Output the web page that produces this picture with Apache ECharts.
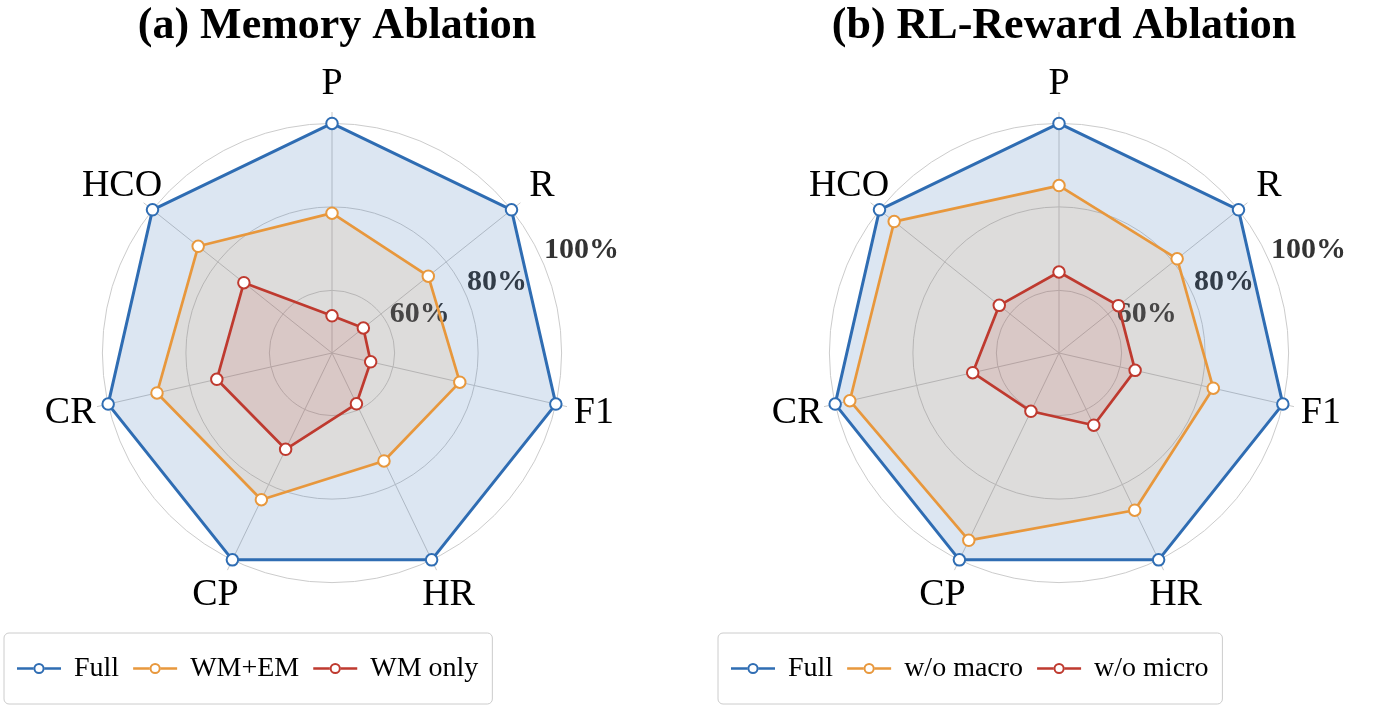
<!DOCTYPE html>
<html><head><meta charset="utf-8">
<script src="https://cdn.jsdelivr.net/npm/echarts@6/dist/echarts.min.js"></script>
<style>html,body{margin:0;padding:0;background:#fff}#c{width:1400px;height:711px}</style>
</head><body><div id="c"></div>
<script>
// ---- data (clockwise from top) ----
const indicators = ['P', 'R', 'F1', 'HR', 'CP', 'CR', 'HCO'];
const tickLabels = [60, 80, 100];
const titles = ['(a) Memory Ablation', '(b) RL-Reward Ablation'];

const memNames = ['Full', 'WM+EM', 'WM only'];
const memFull = [100, 100, 100, 100, 100, 100, 100];
const memWMEM = [78.5, 74.5, 76.4, 73.7, 84.0, 88.0, 86.0];
const memWMonly = [53.9, 54.6, 54.5, 58.5, 70.6, 73.3, 72.0];

const rlNames = ['Full', 'w/o macro', 'w/o micro'];
const rlFull = [100, 100, 100, 100, 100, 100, 100];
const rlMacro = [85.1, 81.2, 82.9, 86.8, 94.8, 96.4, 95.5];
const rlMicro = [64.4, 63.2, 63.7, 64.2, 60.5, 66.2, 63.3];

// ---- styling ----
const colors = ['#2f6db3', '#e8983d', '#bf3a2f'];
const fillOpacity = [0.17, 0.12, 0.12];
const font = 'Liberation Serif';
const rMin = 45, rMax = 100;
const centersX = [332, 1059];
const cy = 353;
const R = 229.6;
// ECharts radar goes counter-clockwise, reorder so visual order is clockwise
const order = [0, 6, 5, 4, 3, 2, 1];

function radarCfg(cx) {
  return {
    center: [cx, cy], radius: R, startAngle: 90, shape: 'circle',
    splitNumber: 11,
    indicator: order.map(i => ({ name: indicators[i], min: rMin, max: rMax })),
    axisName: { color: '#000', fontSize: 38, fontFamily: font, align: 'center', verticalAlign: 'middle' },
    nameGap: 39,
    axisLine: { show: false }, axisTick: { show: false }, axisLabel: { show: false },
    splitArea: { show: false },
    splitLine: { lineStyle: { color: ['rgba(0,0,0,0)', 'rgba(0,0,0,0)', 'rgba(0,0,0,0)', '#cccccc'], width: 1 } }
  };
}

function seriesCfg(idx, names, sets) {
  return {
    type: 'radar', radarIndex: idx, symbol: 'emptyCircle', symbolSize: 11.5, z: 3,
    data: sets.map((vals, k) => ({
      name: names[k],
      value: order.map(i => vals[i]),
      lineStyle: { color: colors[k], width: k === 0 ? 3 : 2.7 },
      itemStyle: { color: colors[k], borderWidth: 2.5 },
      areaStyle: { color: colors[k], opacity: fillOpacity[k] }
    }))
  };
}

const icon = 'path://M0,4.7H16.7V7.3H0Z M27.3,4.7H44V7.3H27.3Z M27.5,6A5.5,5.5,0,1,0,16.5,6A5.5,5.5,0,1,0,27.5,6Z M25.6,6A3.6,3.6,0,1,1,18.4,6A3.6,3.6,0,1,1,25.6,6Z';

function legendCfg(names, left) {
  return {
    data: names, left: left, top: 633, orient: 'horizontal', icon: icon,
    itemWidth: 44, itemHeight: 12, itemGap: 14, padding: [20, 14, 20, 13],
    borderColor: '#cccccc', borderWidth: 1, borderRadius: 5, backgroundColor: '#fff',
    itemStyle: { borderWidth: 0 }, selectedMode: false,
    textStyle: { fontSize: 28, fontFamily: font, color: '#000', lineHeight: 31, padding: [0, 0, 0, 8] }
  };
}

const polar = [], angleAxis = [], radiusAxis = [];
centersX.forEach((cx, j) => {
  // spokes
  polar.push({ center: [cx, cy], radius: 241 });
  angleAxis.push({
    polarIndex: 2 * j, type: 'value', min: 0, max: 360, interval: 360 / indicators.length,
    startAngle: 90, clockwise: true,
    axisLine: { show: false }, axisTick: { show: false }, axisLabel: { show: false },
    splitLine: { show: true, lineStyle: { color: '#c9c9c9', width: 1 } }, z: 0
  });
  radiusAxis.push({
    polarIndex: 2 * j, type: 'value', min: 0, max: 1, show: false,
    axisLine: { show: false }, axisTick: { show: false }, axisLabel: { show: false }, splitLine: { show: false }
  });
  // radial tick labels at 22.5 deg
  polar.push({ center: [cx, cy], radius: R });
  angleAxis.push({
    polarIndex: 2 * j + 1, type: 'value', min: 0, max: 360, startAngle: 22.5, show: false,
    axisLine: { show: false }, axisTick: { show: false }, axisLabel: { show: false }, splitLine: { show: false }
  });
  radiusAxis.push({
    polarIndex: 2 * j + 1, type: 'value', min: rMin, max: rMax, interval: 5, z: 1,
    axisLine: { show: false }, axisTick: { show: false }, splitLine: { show: false },
    axisLabel: {
      show: true, margin: 0, align: 'left', verticalAlign: 'bottom',
      fontSize: 30, fontWeight: 'bold', fontFamily: font, color: '#333333',
      formatter: v => (tickLabels.indexOf(Math.round(v)) >= 0 && Math.abs(v - Math.round(v)) < 1e-6) ? Math.round(v) + '%' : ''
    }
  });
});

const option = {
  backgroundColor: '#fff',
  animation: false,
  title: titles.map((t, j) => ({
    text: t, left: centersX[j], top: 0, textAlign: 'center',
    textStyle: { fontSize: 44, fontWeight: 'bold', fontFamily: font, color: '#000' }
  })),
  legend: [legendCfg(memNames, 4), legendCfg(rlNames, 718)],
  radar: [radarCfg(centersX[0]), radarCfg(centersX[1])],
  polar, angleAxis, radiusAxis,
  series: [
    seriesCfg(0, memNames, [memFull, memWMEM, memWMonly]),
    seriesCfg(1, rlNames, [rlFull, rlMacro, rlMicro])
  ]
};
echarts.init(document.getElementById('c')).setOption(option);
</script></body></html>
